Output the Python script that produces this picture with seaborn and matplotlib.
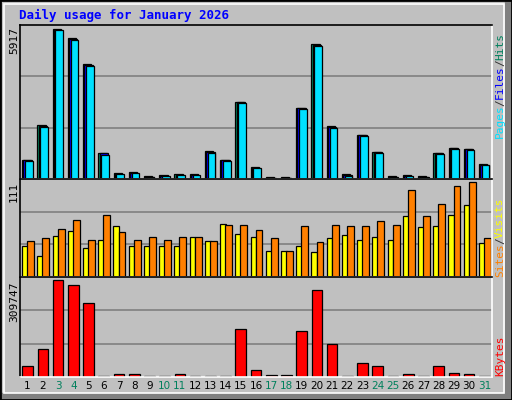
import numpy as np
import pandas as pd
import matplotlib
matplotlib.use("Agg")
import matplotlib.pyplot as plt
import seaborn as sns
from matplotlib.patches import Rectangle

days = list(range(1, 32))
weekends = [3, 4, 10, 11, 17, 18, 24, 25, 31]
hits = [760, 2140, 5917, 5580, 4540, 1040, 220, 270, 100, 140, 180, 180, 1090, 760, 3060, 470, 60, 60, 2820, 5330, 2080, 180, 1760, 1080, 100, 140, 100, 1040, 1240, 1200, 590]
files = [740, 2110, 5900, 5560, 4520, 1010, 200, 250, 90, 130, 170, 170, 1060, 740, 3040, 450, 50, 50, 2800, 5300, 2060, 170, 1740, 1060, 90, 130, 90, 1010, 1220, 1180, 570]
pages = [720, 2070, 5890, 5500, 4480, 960, 180, 220, 80, 110, 140, 160, 1020, 700, 2990, 440, 40, 40, 2760, 5260, 2030, 100, 1700, 1030, 80, 110, 80, 1000, 1200, 1140, 550]
sites = [36, 24, 48, 54, 34, 43, 59, 36, 36, 36, 36, 47, 42, 62, 50, 47, 30, 30, 36, 29, 46, 49, 43, 47, 43, 71, 58, 60, 72, 84, 40]
visits = [42, 46, 56, 66, 43, 72, 52, 43, 47, 43, 47, 47, 42, 61, 61, 55, 45, 30, 60, 41, 61, 60, 59, 65, 61, 101, 71, 85, 106, 111, 46]
kbytes = [34000, 88500, 309747, 292700, 235000, 4000, 8000, 8000, 4000, 4000, 8000, 4000, 4000, 4000, 153000, 23000, 5000, 5000, 147000, 277000, 104000, 4000, 46000, 36000, 4000, 9000, 4000, 36000, 12000, 9000, 4000]

W, H = 512, 400
BG = "#C0C0C0"
fig = plt.figure(figsize=(5.12, 4.0), dpi=100, facecolor=BG)

def fx(x): return x / W
def fy(y): return 1 - y / H

# frame
fig.patches.append(Rectangle((fx(505), 0), fx(7), 1, transform=fig.transFigure, color="#808080", zorder=-2))
fig.patches.append(Rectangle((0, 0), 1, fy(393), transform=fig.transFigure, color="#808080", zorder=-2))
fig.patches.append(Rectangle((fx(4), fy(393)), fx(500), fy(4) - fy(393), transform=fig.transFigure,
                             facecolor=BG, edgecolor="white", lw=1.2, zorder=-1))
fig.patches.append(Rectangle((0, 0), 1, 1, transform=fig.transFigure, fill=False, edgecolor="black", lw=2, zorder=5))

L, R = 20, 492
def mkax(top, bot):
    ax = fig.add_axes([fx(L), fy(bot), fx(R - L), fy(top) - fy(bot)])
    ax.set_zorder(1)
    ax.set_facecolor(BG)
    for s in ["left", "top"]:
        ax.spines[s].set_color("black")
    for s in ["right", "bottom"]:
        ax.spines[s].set_color("white")
    for s in ax.spines.values():
        s.set_linewidth(1.2)
    return ax

mono = "DejaVu Sans Mono"

def draw(ax, vals, color, offset, width, vmax):
    df = pd.DataFrame({"day": days, "v": vals})
    n0 = len(ax.patches)
    sns.barplot(data=df, x="day", y="v", native_scale=True, color=color, width=width,
                edgecolor="black", linewidth=0.9, saturation=1, ax=ax)
    for p in ax.patches[n0:]:
        p.set_x(p.get_x() + offset)
    ax.set_ylim(0, vmax * 1.03)

def finish(ax, vmax):
    for f in (1/3, 2/3):
        ax.axhline(vmax * 1.03 * f, color="#808080", lw=1.2, zorder=0)
    ax.set_xlim(0.5, 31.5)
    ax.set_yticks([]); ax.set_xlabel(""); ax.set_ylabel("")

ax1 = mkax(25, 179)
draw(ax1, hits, "#00805C", -0.08, 0.55, 5917)
draw(ax1, files, "#0000FF", 0.0, 0.55, 5917)
draw(ax1, pages, "#00E0FF", 0.08, 0.5, 5917)
finish(ax1, 5917); ax1.set_xticks([])

ax2 = mkax(179, 277)
draw(ax2, sites, "#FFFF00", -0.17, 0.38, 111)
draw(ax2, visits, "#FF8000", 0.2, 0.45, 111)
finish(ax2, 111); ax2.set_xticks([])

ax3 = mkax(277, 377)
draw(ax3, kbytes, "#FF0000", 0.0, 0.7, 309747)
finish(ax3, 309747)
ax3.set_xticks(days)
ax3.set_xticklabels([str(d) for d in days], fontsize=7.5, family="DejaVu Sans")
for lbl, d in zip(ax3.get_xticklabels(), days):
    lbl.set_color("#00805C" if d in weekends else "black")
ax3.tick_params(axis="x", length=0, pad=3)

fig.text(fx(19), fy(15), "Daily usage for January 2026", color="#0000FF", fontsize=9,
         fontweight="bold", family=mono, va="center", ha="left")

for txt, ytop in [("5917", 27), ("111", 182), ("309747", 281)]:
    fig.text(fx(14), fy(ytop), txt, rotation=90, fontsize=8, family=mono, va="top", ha="center")

def rlabel(parts, ybottom):
    y = ybottom
    for t, c in parts:
        fig.text(fx(500), fy(y), t, rotation=90, fontsize=8, family=mono, va="bottom",
                 ha="center", color=c)
        y -= len(t) * 6.5
rlabel([("Pages", "#00E0FF"), ("/", "#303030"), ("Files", "#0000FF"), ("/", "#303030"), ("Hits", "#00805C")], 138)
rlabel([("Sites", "#FF8000"), ("/", "#303030"), ("Visits", "#FFFF00")], 277)
rlabel([("KBytes", "#FF0000")], 376)

fig.savefig("out.png", dpi=100, facecolor=BG)
